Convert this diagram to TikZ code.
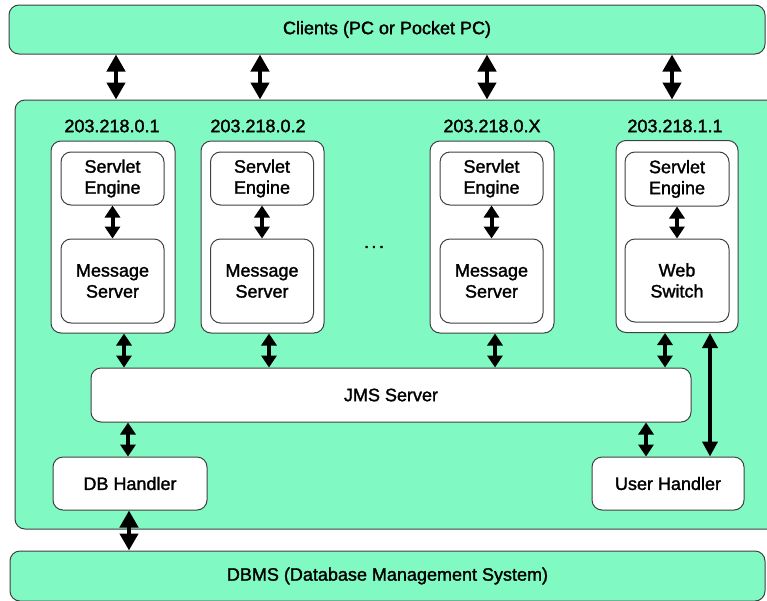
\documentclass[tikz,border=0pt]{standalone}
\usepackage{fontspec}
\setmainfont{Liberation Sans}[FakeBold=1.6]
\usetikzlibrary{arrows.meta,calc}
\definecolor{mint}{RGB}{128,249,194}
\definecolor{edge}{RGB}{64,64,64}
\tikzset{
  greenbox/.style={draw=edge, line width=1pt, fill=mint, rounded corners=10pt, inner sep=0pt},
  whitebox/.style={draw=edge, line width=1pt, fill=white, rounded corners=10pt, inner sep=0pt, align=center},
  lbl/.style={inner sep=0pt, align=center},
  bigarrow/.style={line width=4.5pt, {Triangle[length=17pt,width=18pt]}-{Triangle[length=17pt,width=18pt]}},
  smallarrow/.style={line width=4pt, {Triangle[length=12pt,width=15pt]}-{Triangle[length=12pt,width=15pt]}},
  longarrow/.style={line width=4.5pt, {Triangle[length=15pt,width=15pt]}-{Triangle[length=15pt,width=15pt]}}
}
\begin{document}
\begin{tikzpicture}[x=1pt,y=-1pt,font=\fontsize{18}{21}\selectfont]
\useasboundingbox (0,0) rectangle (767,600);
\fill[white] (0,0) rectangle (767,600);
\clip (0,0) rectangle (767,600);
% main boxes
\node[greenbox, minimum width=756pt, minimum height=49pt] (clients) at (387,29.5) {Clients (PC or Pocket PC)};
\node[greenbox, minimum width=790pt, minimum height=429pt] (main) at (410,314.5) {};
\node[greenbox, minimum width=755pt, minimum height=50pt] (dbms) at (387.5,576) {DBMS (Database Management System)};
% hosts
\node[whitebox, minimum width=124pt, minimum height=192pt] (h1) at (113,237) {};
\node[whitebox, minimum width=123pt, minimum height=192pt] (h2) at (262.5,237) {};
\node[whitebox, minimum width=124pt, minimum height=192pt] (hx) at (492,237) {};
\node[whitebox, minimum width=122pt, minimum height=192pt] (h4) at (677,236.5) {};
% ip labels
\node[lbl] (ip1) at (112,126) {203.218.0.1};
\node[lbl] (ip2) at (258,126) {203.218.0.2};
\node[lbl] (ipx) at (492,126) {203.218.0.X};
\node[lbl] (ip4) at (675,126) {203.218.1.1};
% servlet engines
\node[whitebox, minimum width=103pt, minimum height=53pt] (s1) at (112.5,178.5) {Servlet\\Engine};
\node[whitebox, minimum width=103pt, minimum height=53pt] (s2) at (262,178.5) {Servlet\\Engine};
\node[whitebox, minimum width=103pt, minimum height=53pt] (sx) at (491.5,178.5) {Servlet\\Engine};
\node[whitebox, minimum width=104pt, minimum height=54pt] (s4) at (677,179) {Servlet\\Engine};
% message servers
\node[whitebox, minimum width=103pt, minimum height=84pt] (m1) at (112.5,281) {Message\\Server};
\node[whitebox, minimum width=103pt, minimum height=84pt] (m2) at (262,281) {Message\\Server};
\node[whitebox, minimum width=103pt, minimum height=84pt] (mx) at (491.5,281) {Message\\Server};
\node[whitebox, minimum width=104pt, minimum height=83pt] (ws) at (677,280.5) {Web\\Switch};
\node[lbl] (dots) at (374,247) {.\kern2.5pt.\kern2.5pt.};
% JMS and handlers
\node[whitebox, minimum width=600pt, minimum height=54pt] (jms) at (391,395) {JMS Server};
\node[whitebox, minimum width=154pt, minimum height=53pt] (db) at (130,483.5) {DB Handler};
\node[whitebox, minimum width=152pt, minimum height=53pt] (uh) at (668,483.5) {User Handler};
% client arrows
\draw[bigarrow] ([xshift=3pt]h1.north |- clients.south) -- ([xshift=3pt]h1.north |- main.north);
\draw[bigarrow] ([xshift=-2.5pt]h2.north |- clients.south) -- ([xshift=-2.5pt]h2.north |- main.north);
\draw[bigarrow] ([xshift=-5pt]hx.north |- clients.south) -- ([xshift=-5pt]hx.north |- main.north);
\draw[bigarrow] ([xshift=-5pt]h4.north |- clients.south) -- ([xshift=-5pt]h4.north |- main.north);
% internal arrows
\draw[smallarrow] (s1.south) -- (m1.north);
\draw[smallarrow] (s2.south) -- (m2.north);
\draw[smallarrow] (sx.south) -- (mx.north);
\draw[smallarrow] (s4.south) -- (ws.north);
% host to JMS
\draw[smallarrow] ([xshift=11pt]h1.south) -- ([xshift=11pt]h1.south |- jms.north);
\draw[smallarrow] ([xshift=6.5pt]h2.south) -- ([xshift=6.5pt]h2.south |- jms.north);
\draw[smallarrow] ([xshift=3pt]hx.south) -- ([xshift=3pt]hx.south |- jms.north);
\draw[smallarrow] ([xshift=-12pt]h4.south) -- ([xshift=-12pt]h4.south |- jms.north);
% long arrow
\draw[longarrow] ([xshift=33pt]h4.south) -- ([xshift=33pt]h4.south |- uh.north);
% handlers
\draw[smallarrow] ([xshift=-2pt]db.north |- jms.south) -- ([xshift=-2pt]db.north);
\draw[smallarrow] ([xshift=-22pt]uh.north |- jms.south) -- ([xshift=-22pt]uh.north);
\draw[bigarrow] ([xshift=-1pt]db.south) -- ([xshift=-1pt]db.south |- dbms.north);
\end{tikzpicture}
\end{document}
